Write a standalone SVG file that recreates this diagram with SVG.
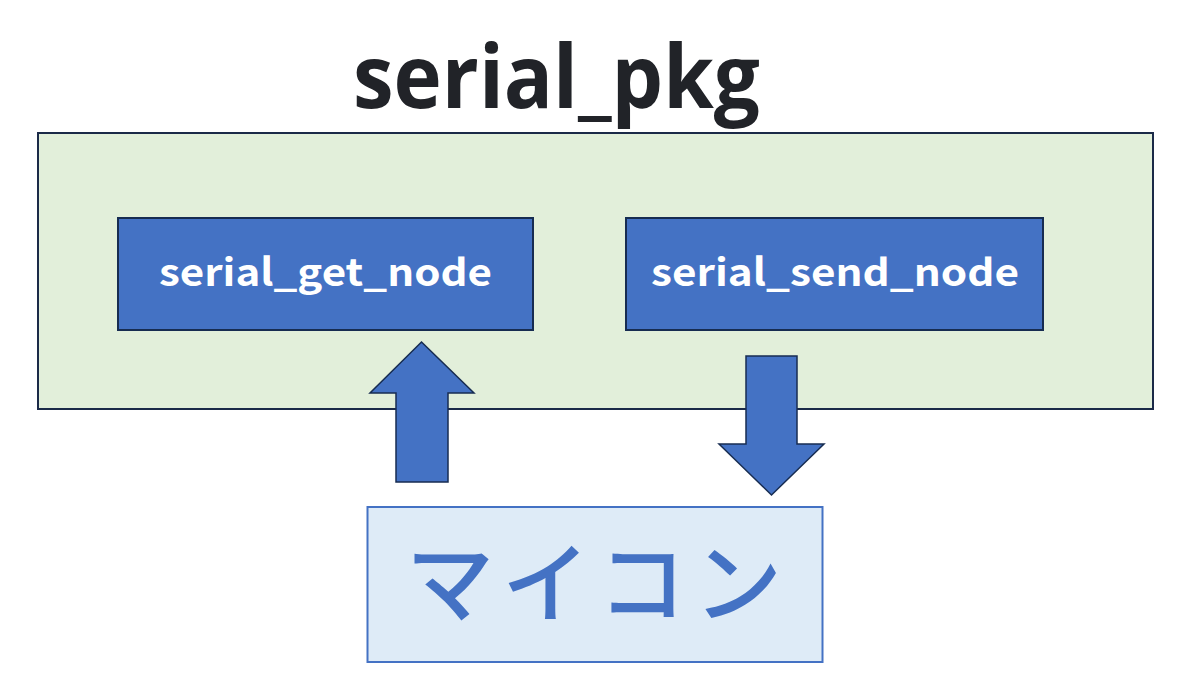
<svg xmlns="http://www.w3.org/2000/svg" width="1185" height="677" viewBox="0 0 1185 677">
<style>
.pkg{fill:#E2EFDA;stroke:#1B2A48;stroke-width:2}
.node{fill:#4472C4;stroke:#172C51;stroke-width:2}
.arrow{fill:#4472C4;stroke:#172C51;stroke-width:1.5;stroke-linejoin:miter}
.ntxt{fill:#FFFFFF;font-family:"Noto Sans CJK JP","Open Sans",sans-serif;font-weight:bold;font-size:38px}
.title{fill:#212328;font-family:"Open Sans","Liberation Sans",sans-serif;font-weight:bold;font-size:88px}
.mc{fill:#DEEBF7;stroke:#4472C4;stroke-width:2}
.mtxt{fill:#4472C4;font-family:"Noto Sans CJK JP",sans-serif;font-weight:500;font-size:88px}
</style>
<rect width="1185" height="677" fill="#FFFFFF"/>
<g id="title"><text class="title" x="353" y="108" textLength="407" lengthAdjust="spacingAndGlyphs">serial_pkg</text></g>
<g id="serial_pkg"><rect class="pkg" x="38" y="133" width="1115" height="276"/></g>
<g id="serial_get_node"><rect class="node" x="118" y="218" width="415" height="112"/><text class="ntxt" x="159" y="286" textLength="333" lengthAdjust="spacingAndGlyphs">serial_get_node</text></g>
<g id="serial_send_node"><rect class="node" x="626" y="218" width="417" height="112"/><text class="ntxt" x="651" y="286" textLength="368" lengthAdjust="spacingAndGlyphs">serial_send_node</text></g>
<g id="maicon"><rect class="mc" x="367.5" y="507" width="455" height="155"/><text class="mtxt" x="406" y="615" textLength="376" lengthAdjust="spacing">マイコン</text></g>
<g id="connectors">
<polygon class="arrow" points="421.5,342 474,393 448,393 448,482 396,482 396,393 370,393"/>
<polygon class="arrow" points="746,356 797,356 797,444 824,444 771.5,495 719,444 746,444"/>
</g>
</svg>
